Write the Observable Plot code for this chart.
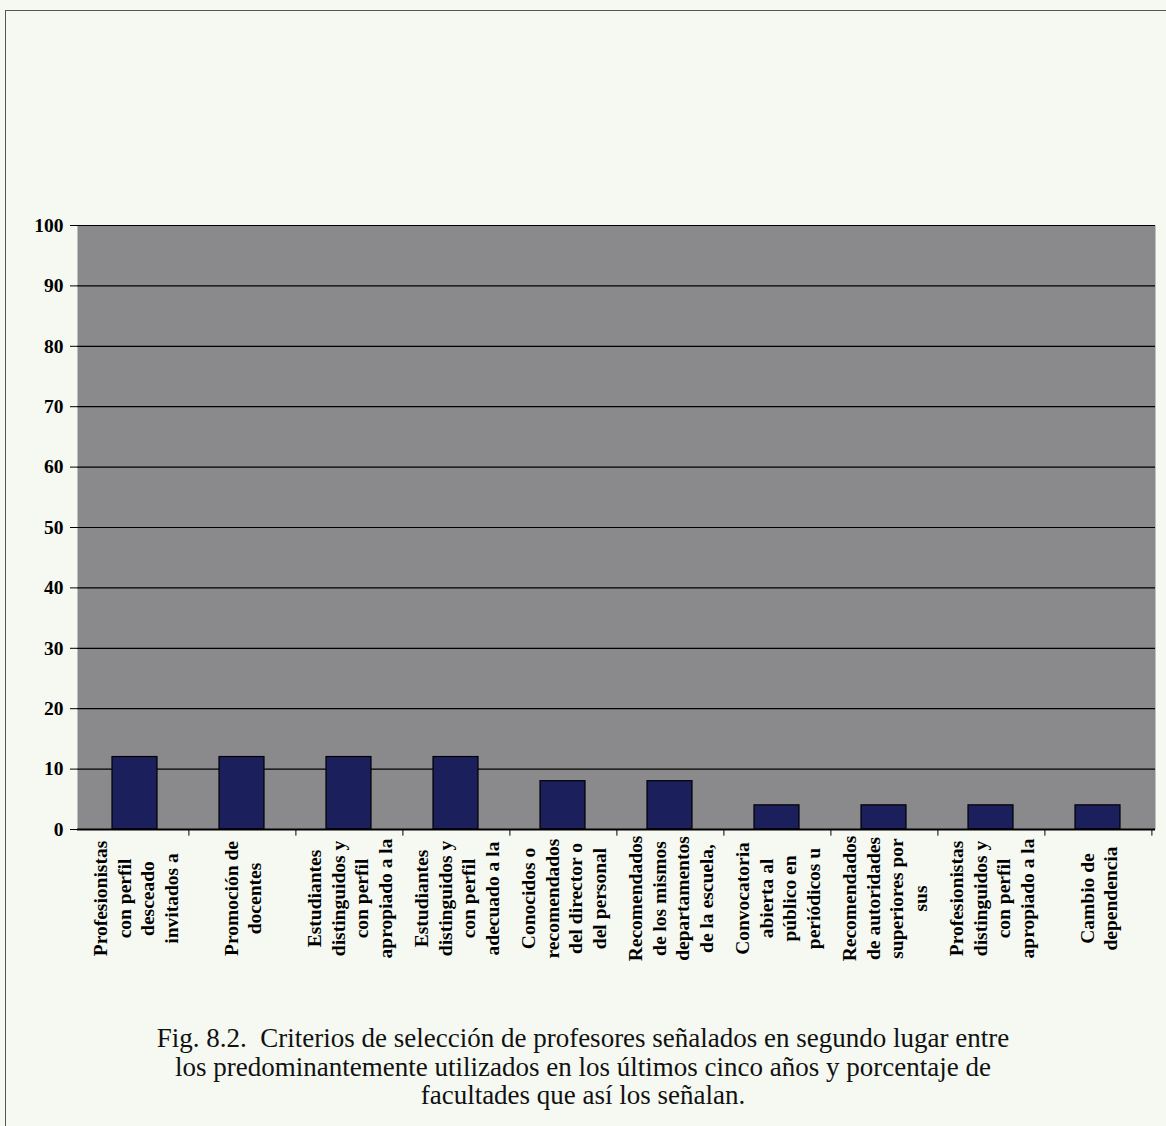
<!DOCTYPE html>
<html>
<head>
<meta charset="utf-8">
<script src="https://cdn.jsdelivr.net/npm/d3@7"></script>
<script src="https://cdn.jsdelivr.net/npm/@observablehq/plot@0.6"></script>
<style>
  html, body { margin: 0; padding: 0; background: #f6f9f1; }
  body { width: 1166px; height: 1126px; position: relative; overflow: hidden; font-family: "Liberation Serif", "Times New Roman", serif; }
  #border { position: absolute; left: 5px; top: 10px; width: 1200px; height: 1200px; border: 1px solid #555; box-sizing: border-box; }
  #chart { position: absolute; left: 0; top: 0; }
  #caption { position: absolute; left: 0; top: 1024px; width: 1166px; text-align: center; font-family: "Liberation Serif", serif; font-size: 27px; line-height: 28.5px; color: #111; }
</style>
</head>
<body>
<div id="border"></div>
<div id="chart"></div>
<div id="caption">Fig. 8.2.&nbsp; Criterios de selección de profesores señalados en segundo lugar entre<br>los predominantemente utilizados en los últimos cinco años y porcentaje de<br>facultades que así los señalan.</div>
<script>
const categories = [
  "Profesionistas\ncon perfil\ndesceado\ninvitados a",
  "Promoción de\ndocentes",
  "Estudiantes\ndistinguidos y\ncon perfil\napropiado a la",
  "Estudiantes\ndistinguidos y\ncon perfil\nadecuado a la",
  "Conocidos o\nrecomendados\ndel director o\ndel personal",
  "Recomendados\nde los mismos\ndepartamentos\nde la escuela,",
  "Convocatoria\nabierta al\npúblico en\nperiódicos u",
  "Recomendados\nde autoridades\nsuperiores por\nsus",
  "Profesionistas\ndistinguidos y\ncon perfil\napropiado a la",
  "Cambio de\ndependencia"
];
const values = [12, 12, 12, 12, 8, 8, 4, 4, 4, 4];
const yTicks = [0, 10, 20, 30, 40, 50, 60, 70, 80, 90, 100];

const data = categories.map((c, i) => ({category: c, value: values[i]}));

const W = 1166, mL = 77, mR = 11;
const halfStep = (W - mL - mR) / categories.length / 2;

const chart = Plot.plot({
  width: W,
  height: 1000,
  marginLeft: mL,
  marginRight: mR,
  marginTop: 225,
  marginBottom: 171,
  style: {background: "transparent", fontFamily: "Liberation Serif, Times New Roman, serif", color: "#000"},
  x: {domain: categories, paddingInner: 0.58, paddingOuter: 0.29, axis: null},
  y: {domain: [0, 100], axis: null},
  marks: [
    Plot.frame({fill: "#8a898c", stroke: "none"}),
    Plot.ruleY(yTicks, {stroke: "#000", strokeWidth: 1.2}),
    Plot.ruleX([0], {frameAnchor: "left", stroke: "#000", strokeWidth: 1.5}),
    Plot.ruleX(categories, {x: d => d, y1: 0, y2: -1.1, dx: halfStep, stroke: "#000"}),
    Plot.barY(data, {x: "category", y: "value", fill: "#1b1f5c", stroke: "#000", strokeWidth: 1.2}),
    Plot.axisY({ticks: yTicks, tickSize: 7, tickPadding: 7, fontSize: 19.5, fontWeight: "bold", anchor: "left", label: null}),
    Plot.ruleY([0], {stroke: "#000", strokeWidth: 2}),
    Plot.text(data, {
      x: "category", text: "category", frameAnchor: "bottom", dy: 69,
      rotate: -90, textAnchor: "middle", lineAnchor: "middle", lineHeight: 1.2,
      fontSize: 19.5, fontWeight: "bold", fill: "#000"
    })
  ]
});
document.getElementById("chart").append(chart);
</script>
</body>
</html>
